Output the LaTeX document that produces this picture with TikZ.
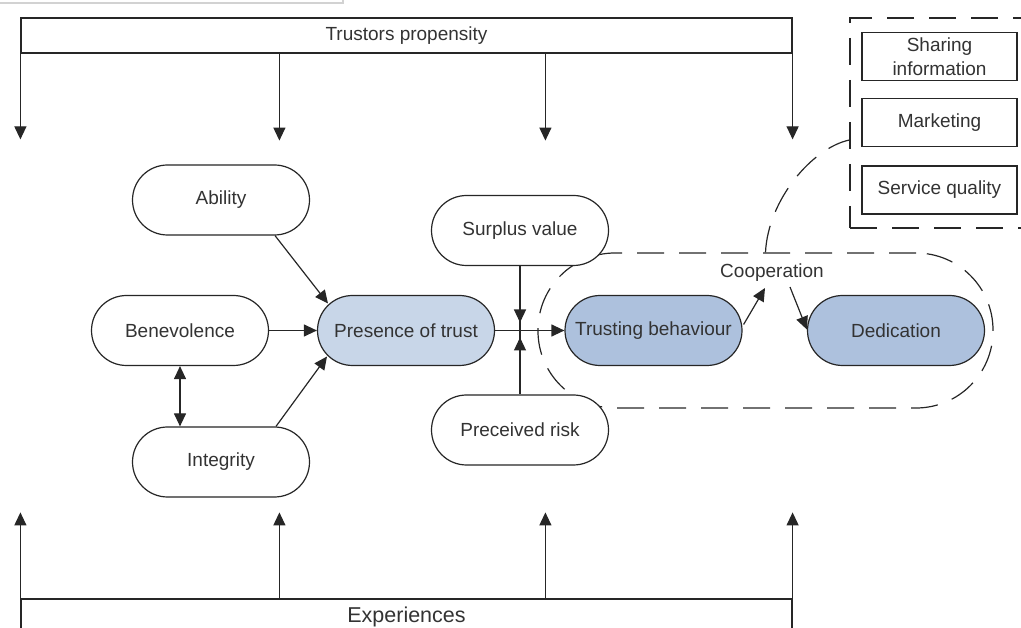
\documentclass[tikz,border=0pt]{standalone}
\usepackage{fontspec}
\setmainfont{Liberation Sans}
\usetikzlibrary{arrows.meta,calc}
\definecolor{ink}{HTML}{262626}
\definecolor{txt}{HTML}{333333}
\definecolor{paleblue}{HTML}{C8D6E8}
\definecolor{midblue}{HTML}{ADC1DD}
\begin{document}
\begin{tikzpicture}[x=1pt,y=-1pt,line width=1.2pt,
  font=\fontsize{19}{24}\selectfont, text=txt,
  pill/.style={draw=ink, fill=white, rounded corners=35pt, minimum width=177pt,
    minimum height=70pt, inner sep=0pt},
  plainbox/.style={draw=ink, fill=white, minimum width=155pt, minimum height=48pt,
    inner sep=0pt, align=center},
  bar/.style={draw=ink, minimum width=771pt, minimum height=35pt, inner sep=0pt},
  arr/.style={draw=ink, -{Triangle[length=13pt,width=12pt]}},
  darr/.style={draw=ink, {Triangle[length=13pt,width=12pt]}-{Triangle[length=13pt,width=12pt]}},
  dashline/.style={draw=ink, dash pattern=on 27pt off 15pt},
]
\useasboundingbox (0,0) rectangle (1021,628);
\clip (0,0) rectangle (1021,628);

% thin grey frame edge in the top-left corner
\draw[gray!35, line width=1.5pt] (0,3) -- (343,3) -- (343,0);

% cooperation zone (behind the nodes)
\node[dashline, rounded corners=77pt, minimum width=455pt, minimum height=155pt]
  (coopzone) at (765.5,330.5) {};

% right-hand group of activities
\node[dashline, minimum width=200pt, minimum height=210pt] (rbox) at (950,123) {};
\node[plainbox] (share) at (939.5,56.5) {Sharing\\information};
\node[plainbox] (market) at (939.5,122.5) {Marketing};
\node[plainbox] (service) at (939.5,190) {Service quality};

% top and bottom bars
\node[bar] (prop) at (406.5,35.5) {Trustors propensity};
\node[bar, font=\fontsize{21.5}{24}\selectfont] (exp) at (406.5,616.5) {Experiences};

\draw[arr] (prop.north west) -- ++(0,122);
\draw[arr] ($(prop.south west)+(259,0)$) -- ++(0,87);
\draw[arr] ($(prop.south west)+(525,0)$) -- ++(0,87);
\draw[arr] (prop.north east) -- ++(0,122);

\draw[arr] (exp.north west) -- ++(0,-86);
\draw[arr] ($(exp.north west)+(259,0)$) -- ++(0,-86);
\draw[arr] ($(exp.north west)+(525,0)$) -- ++(0,-86);
\draw[arr] (exp.north east) -- ++(0,-86);

% main nodes
\node[pill] (ability) at (221,200) {Ability};
\node[pill] (benev) at (180,330.5) {Benevolence};
\node[pill] (integ) at (221,462) {Integrity};
\node[pill, fill=paleblue] (pres) at (406,330.5) {Presence of trust};
\node[pill] (surplus) at (520,230.5) {Surplus value};
\node[pill] (risk) at (520,430) {Preceived risk};
\node[pill, fill=midblue] (trust) at (653.5,330.5) {Trusting behaviour};
\node[pill, fill=midblue] (dedic) at (896,330.5) {Dedication};
\node (coop) at (772,273) {Cooperation};

% antecedents of trust
\draw[arr] ($(ability.south)+(54,0)$) -- ($(pres.center)+(-78,-27)$);
\draw[arr] (benev.east) -- (pres.west);
\draw[darr] (benev.south) -- (benev.south |- integ.north);
\draw[arr] ($(integ.north)+(55,0)$) -- ($(pres.center)+(-79,26)$);

% moderated path to trusting behaviour
\coordinate (jn) at (520,330.5);
\draw[arr] (pres.east) -- (trust.west);
\draw[draw=ink] (surplus.south) -- (risk.north);
\draw[arr] ($(jn)+(0,-22)$) -- ($(jn)+(0,-8)$);
\draw[arr] ($(jn)+(0,22)$) -- ($(jn)+(0,7)$);

% cooperation
\draw[arr] ($(trust.east)+(1,-6)$) -- ($(coop.center)+(-7,15)$);
\draw[arr] ($(coop.center)+(18,14)$) -- ($(dedic.west)+(0,-1)$);
\draw[dashline] (coopzone.north) .. controls (768,200) and (812,148) .. ($(rbox.west)+(0,17)$);
\end{tikzpicture}
\end{document}
